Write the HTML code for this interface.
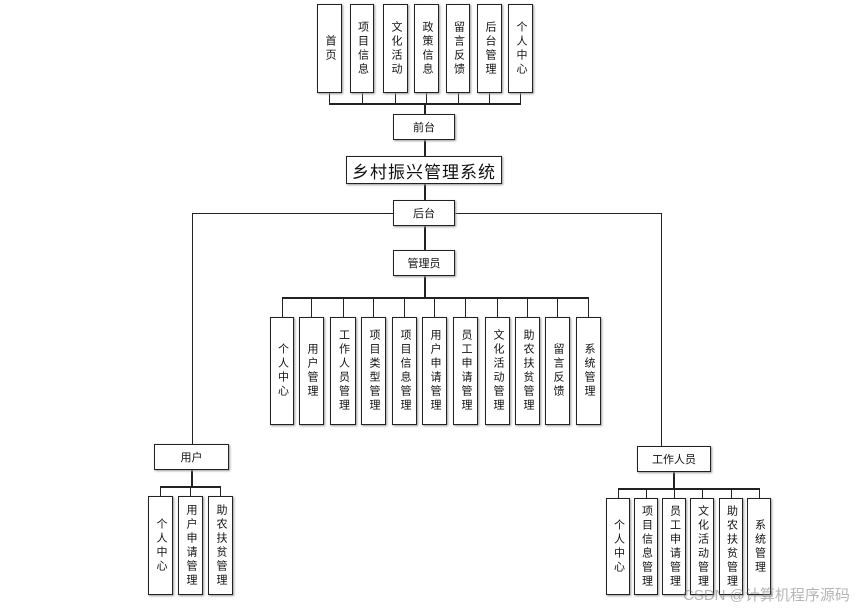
<!DOCTYPE html>
<html><head><meta charset="utf-8"><style>
body{margin:0;background:#fff;width:867px;height:609px;overflow:hidden;position:relative;font-family:"Liberation Sans","Noto Sans CJK SC",sans-serif}
.b{position:absolute;border:1.5px solid #222;box-sizing:border-box;background:#fff;box-shadow:1px 1px 2px #999;display:flex;align-items:center;justify-content:center;font-size:11px;color:#111}
.v{writing-mode:vertical-rl;text-orientation:upright;letter-spacing:3px;line-height:1}
.l{position:absolute;background:#222}
</style></head><body>
<!-- lines -->
<div class="l" style="left:329px;top:103px;width:192px;height:1.5px"></div>
<div class="l" style="left:329px;top:93px;width:1px;height:10px"></div>
<div class="l" style="left:362px;top:93px;width:1px;height:10px"></div>
<div class="l" style="left:395px;top:93px;width:1px;height:10px"></div>
<div class="l" style="left:426px;top:93px;width:1px;height:10px"></div>
<div class="l" style="left:458px;top:93px;width:1px;height:10px"></div>
<div class="l" style="left:489px;top:93px;width:1px;height:10px"></div>
<div class="l" style="left:520px;top:93px;width:1px;height:10px"></div>
<div class="l" style="left:424px;top:103px;width:1.5px;height:150px"></div>
<div class="l" style="left:424px;top:270px;width:1.5px;height:27px"></div>
<div class="l" style="left:192px;top:213px;width:469px;height:1px"></div>
<div class="l" style="left:192px;top:213px;width:1px;height:231px"></div>
<div class="l" style="left:661px;top:213px;width:1px;height:233px"></div>
<div class="l" style="left:282px;top:297px;width:306px;height:1.5px"></div>
<div class="l" style="left:282px;top:297px;width:1px;height:20px"></div>
<div class="l" style="left:311px;top:297px;width:1px;height:20px"></div>
<div class="l" style="left:343px;top:297px;width:1px;height:20px"></div>
<div class="l" style="left:373px;top:297px;width:1px;height:20px"></div>
<div class="l" style="left:404px;top:297px;width:1px;height:20px"></div>
<div class="l" style="left:434px;top:297px;width:1px;height:20px"></div>
<div class="l" style="left:465px;top:297px;width:1px;height:20px"></div>
<div class="l" style="left:497px;top:297px;width:1px;height:20px"></div>
<div class="l" style="left:527px;top:297px;width:1px;height:20px"></div>
<div class="l" style="left:557px;top:297px;width:1px;height:20px"></div>
<div class="l" style="left:588px;top:297px;width:1px;height:20px"></div>
<div class="l" style="left:191px;top:470px;width:1.5px;height:16px"></div>
<div class="l" style="left:160px;top:486px;width:61px;height:1.5px"></div>
<div class="l" style="left:160px;top:486px;width:1px;height:10px"></div>
<div class="l" style="left:190px;top:486px;width:1px;height:10px"></div>
<div class="l" style="left:220px;top:486px;width:1px;height:10px"></div>
<div class="l" style="left:673px;top:472px;width:1.5px;height:16px"></div>
<div class="l" style="left:618px;top:488px;width:141px;height:1.5px"></div>
<div class="l" style="left:618px;top:488px;width:1px;height:10px"></div>
<div class="l" style="left:646px;top:488px;width:1px;height:10px"></div>
<div class="l" style="left:674px;top:488px;width:1px;height:10px"></div>
<div class="l" style="left:702px;top:488px;width:1px;height:10px"></div>
<div class="l" style="left:731px;top:488px;width:1px;height:10px"></div>
<div class="l" style="left:759px;top:488px;width:1px;height:10px"></div>
<!-- top boxes -->
<div class="b v" style="left:317px;top:4px;width:25px;height:89px">首页</div>
<div class="b v" style="left:350px;top:4px;width:24px;height:89px">项目信息</div>
<div class="b v" style="left:383px;top:4px;width:25px;height:89px">文化活动</div>
<div class="b v" style="left:414px;top:4px;width:25px;height:89px">政策信息</div>
<div class="b v" style="left:446px;top:4px;width:24px;height:89px">留言反馈</div>
<div class="b v" style="left:477px;top:4px;width:25px;height:89px">后台管理</div>
<div class="b v" style="left:508px;top:4px;width:25px;height:89px">个人中心</div>
<div class="b" style="left:393px;top:114px;width:62px;height:26px">前台</div>
<div class="b" style="left:346px;top:156px;width:156px;height:28px;font-size:17px;letter-spacing:1px">乡村振兴管理系统</div>
<div class="b" style="left:393px;top:200px;width:62px;height:26px">后台</div>
<div class="b" style="left:393px;top:250px;width:62px;height:26px">管理员</div>
<!-- admin children -->
<div class="b v" style="left:270px;top:317px;width:24px;height:108px">个人中心</div>
<div class="b v" style="left:299px;top:317px;width:25px;height:108px">用户管理</div>
<div class="b v" style="left:330px;top:317px;width:26px;height:108px">工作人员管理</div>
<div class="b v" style="left:361px;top:317px;width:25px;height:108px">项目类型管理</div>
<div class="b v" style="left:392px;top:317px;width:25px;height:108px">项目信息管理</div>
<div class="b v" style="left:422px;top:317px;width:25px;height:108px">用户申请管理</div>
<div class="b v" style="left:453px;top:317px;width:25px;height:108px">员工申请管理</div>
<div class="b v" style="left:485px;top:317px;width:25px;height:108px">文化活动管理</div>
<div class="b v" style="left:515px;top:317px;width:25px;height:108px">助农扶贫管理</div>
<div class="b v" style="left:545px;top:317px;width:25px;height:108px">留言反馈</div>
<div class="b v" style="left:576px;top:317px;width:25px;height:108px">系统管理</div>
<!-- user -->
<div class="b" style="left:154px;top:444px;width:75px;height:26px">用户</div>
<div class="b v" style="left:148px;top:496px;width:25px;height:99px">个人中心</div>
<div class="b v" style="left:178px;top:496px;width:25px;height:99px">用户申请管理</div>
<div class="b v" style="left:208px;top:496px;width:25px;height:99px">助农扶贫管理</div>
<!-- staff -->
<div class="b" style="left:637px;top:446px;width:74px;height:26px">工作人员</div>
<div class="b v" style="left:606px;top:498px;width:24px;height:97px">个人中心</div>
<div class="b v" style="left:634px;top:498px;width:24px;height:97px">项目信息管理</div>
<div class="b v" style="left:662px;top:498px;width:24px;height:97px">员工申请管理</div>
<div class="b v" style="left:690px;top:498px;width:24px;height:97px">文化活动管理</div>
<div class="b v" style="left:719px;top:498px;width:24px;height:97px">助农扶贫管理</div>
<div class="b v" style="left:747px;top:498px;width:24px;height:97px">系统管理</div>
<div style="position:absolute;left:683px;top:584px;font-size:15px;color:rgba(120,120,120,0.55);white-space:nowrap">CSDN @计算机程序源码</div>
</body></html>
